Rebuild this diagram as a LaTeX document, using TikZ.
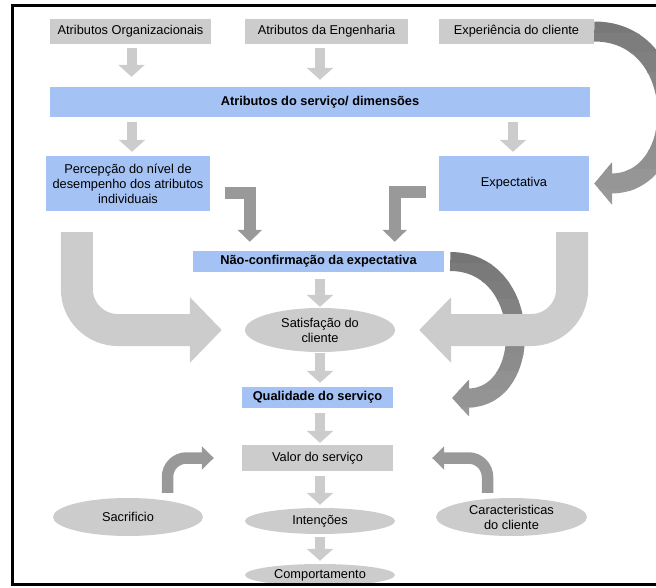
\documentclass[tikz,border=0pt]{standalone}
\usepackage{fontspec}
\setmainfont{Liberation Sans}
\usetikzlibrary{arrows.meta,shapes.geometric,calc}
\definecolor{boxgray}{HTML}{CCCCCC}
\definecolor{boxblue}{HTML}{A4C2F4}
\definecolor{darkarr}{HTML}{999999}
\tikzset{
  graybox/.style={rectangle, fill=boxgray, draw=none, inner sep=0pt, align=center},
  bluebox/.style={rectangle, fill=boxblue, draw=none, inner sep=0pt, align=center},
  bluebold/.style={bluebox, font=\fontsize{12.8}{15}\selectfont\bfseries},
  grayell/.style={ellipse, fill=boxgray, draw=none, inner sep=0pt, align=center},
  smallarr/.style={line width=10pt, draw=boxgray, -{Triangle[width=26pt,length=12pt]}},
  bigarr/.style={line width=32pt, draw=boxgray, rounded corners=41pt, -{Triangle[width=64pt,length=32pt]}},
  elbowarr/.style={line width=12pt, draw=darkarr, -{Triangle[width=24pt,length=12pt]}},
  bendarr/.style={line width=11.5pt, draw=darkarr, rounded corners=19pt, -{Triangle[width=23pt,length=12pt]}},
  exparc/.style={line width=20pt, -{Triangle[width=42pt,length=18pt]}},
  ncarc/.style={line width=19pt, -{Triangle[width=36pt,length=17pt]}},
}
\begin{document}
\begin{tikzpicture}[x=1pt,y=-1pt, font=\fontsize{12.8}{15}\selectfont]
\useasboundingbox (0,0) rectangle (656,588);
\clip (0,0) rectangle (656,588);

% nodes
\node[graybox, minimum width=161pt, minimum height=25pt] (org) at (130.5,31.5) {Atributos Organizacionais};
\node[graybox, minimum width=163pt, minimum height=25pt] (eng) at (326.5,31.5) {Atributos da Engenharia};
\node[graybox, minimum width=155pt, minimum height=25pt] (exp) at (516.5,31.5) {Experiência do cliente};
\node[bluebold, minimum width=540pt, minimum height=30pt] (dims) at (320,102) {Atributos do serviço/ dimensões};
\node[bluebox, minimum width=164pt, minimum height=55pt] (perc) at (128,183.5) {Percepção do nível de\\desempenho dos atributos\\individuais};
\node[bluebox, minimum width=150pt, minimum height=55pt] (expect) at (514,183.5) {Expectativa};
\node[bluebold, minimum width=251pt, minimum height=21pt] (nc) at (318.5,261.5) {Não-confirmação da expectativa};
\node[grayell, minimum width=150pt, minimum height=44pt] (sat) at (320,330) {Satisfação do\\cliente};
\node[bluebold, minimum width=151pt, minimum height=21pt] (qual) at (317.5,397.5) {Qualidade do serviço};
\node[graybox, minimum width=151pt, minimum height=26pt] (valor) at (317.5,458) {Valor do serviço};
\node[grayell, minimum width=150pt, minimum height=26pt] (int) at (320,521) {Intenções};
\node[grayell, minimum width=150pt, minimum height=22pt] (comp) at (320,575) {Comportamento};
\node[grayell, minimum width=150pt, minimum height=38pt] (sac) at (128,517) {Sacrificio};
\node[grayell, minimum width=151pt, minimum height=38pt] (car) at (511.5,517) {Caracteristicas\\do cliente};

\coordinate (ncEnd) at (452,398);

% small light arrows
\draw[smallarr] ($(org.south)+(1,4)$) -- ($(org.south |- dims.north)+(1,-10)$);
\draw[smallarr] ($(eng.south -| dims.north)+(0,4)$) -- ($(dims.north)+(0,-7)$);
\draw[smallarr] ($(dims.south -| perc.north)+(4,5)$) -- ($(perc.north)+(4,-4)$);
\draw[smallarr] ($(dims.south -| expect.north)+(-1,5)$) -- ($(expect.north)+(-1,-4)$);
\draw[smallarr] ($(nc.south -| sat.north)+(0,7)$) -- ($(sat.north)+(0,-1)$);
\draw[smallarr] ($(sat.south)+(0,1)$) -- ($(qual.north -| sat.south)+(0,-4)$);
\draw[smallarr] ($(qual.south -| sat.south)+(0,5)$) -- ($(valor.north -| sat.south)+(0,-2)$);
\draw[smallarr] ($(valor.south -| int.north)+(0,5)$) -- ($(int.north)+(0,-3)$);
\draw[smallarr] ($(int.south)+(0,3)$) -- ($(comp.north)+(0,-3)$);

% dark elbow arrows
\draw[elbowarr] ($(perc.east)+(15,10)$) -| ($(nc.north west)+(57,-9)$);
\draw[elbowarr] ($(expect.west)+(-13,9)$) -| ($(nc.north east)+(-49.5,-9)$);

% bottom bend arrows
\draw[bendarr] ($(sac.north)+(39.5,-5)$) |- ($(valor.west)+(-28,0)$);
\draw[bendarr] ($(car.north)+(-24,-5)$) |- ($(valor.east)+(39,0)$);

% curved arrow from Experiencia do cliente to Expectativa (shaded in bands)
\foreach \k in {0,...,9}{
  \pgfmathsetmacro\yA{14+\k*19.5}
  \pgfmathsetmacro\yB{\yA+20.5}
  \pgfmathtruncatemacro\shd{53-\k*1.4}
  \begin{scope}
    \clip (560,\yA) rectangle (700,\yB);
    \draw[exparc, draw=black!\shd] (exp.east) to[out=0,in=0,looseness=1.6] ($(expect.east)+(5,0)$);
  \end{scope}
}

% curved arrow from Nao-confirmacao to Qualidade (shaded in bands)
\foreach \k in {0,...,9}{
  \pgfmathsetmacro\yA{245+\k*18}
  \pgfmathsetmacro\yB{\yA+19}
  \pgfmathtruncatemacro\shd{54-\k*1.5}
  \begin{scope}
    \clip (440,\yA) rectangle (560,\yB);
    \draw[ncarc, draw=black!\shd] ($(nc.east)+(6,0)$) to[out=0,in=0,looseness=1.55] (ncEnd);
  \end{scope}
}

% big light arrows
\draw[bigarr] ($(perc.south west)+(31,21)$) |- ($(sat.west)+(-23,0)$);
\draw[bigarr] ($(expect.south east)+(-17,21)$) |- ($(sat.east)+(24,0)$);

% frame
\draw[line width=3pt] (660,6) -- (12,6) -- (12,584) -- (660,584);
\end{tikzpicture}
\end{document}
